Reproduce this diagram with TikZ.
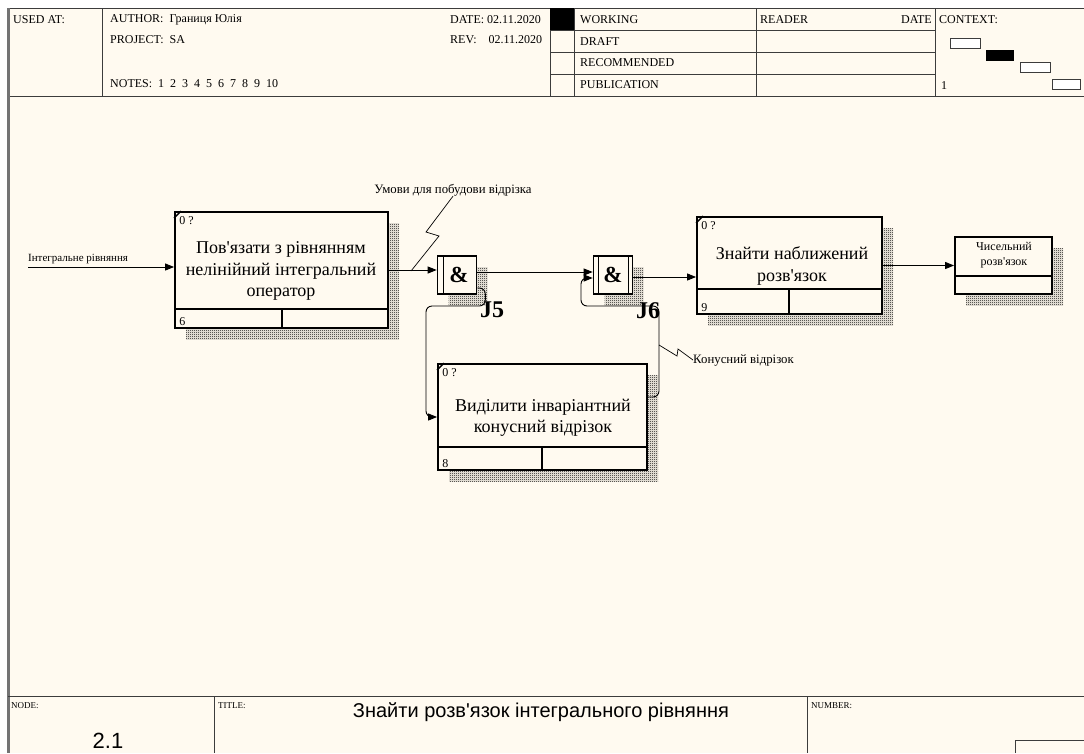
\documentclass[tikz,border=0pt]{standalone}
\usepackage{fontspec}
\setmainfont{Liberation Serif}[Ligatures=TeXOff]
\newfontfamily\arialf{Liberation Sans}
\usetikzlibrary{arrows.meta,patterns,positioning}
\definecolor{bgcream}{RGB}{255,250,240}
\definecolor{framegray}{RGB}{60,60,60}

% checker shade behind boxes
\pgfdeclarepatternformonly{checker}{\pgfpointorigin}{\pgfpoint{2pt}{2pt}}{\pgfpoint{2pt}{2pt}}{
  \pgfpathrectangle{\pgfpointorigin}{\pgfpoint{1pt}{1pt}}
  \pgfpathrectangle{\pgfpoint{1pt}{1pt}}{\pgfpoint{1pt}{1pt}}
  \pgfusepath{fill}}

\tikzset{
  actbox/.style={draw, line width=1.8pt, fill=bgcream, inner sep=0pt,
    preaction={pattern=checker, pattern color=black,
      transform canvas={xshift=11pt, yshift=-11pt}}},
  acttext/.style={align=center, inner sep=0pt, font=\fontsize{18}{21.5}\selectfont},
  jbox/.style={actbox, line width=1.6pt, minimum width=39pt, minimum height=38pt,
    font=\bfseries\fontsize{23}{23}\selectfont},
  jname/.style={inner sep=0pt, font=\bfseries\fontsize{24}{24}\selectfont},
  arr/.style={line width=0.9pt, -{Triangle[length=9pt,width=7pt]}},
  lbl/.style={inner sep=0pt, align=center, font=\fontsize{11}{13}\selectfont},
  biglbl/.style={lbl, font=\fontsize{12.8}{14}\selectfont},
  hdr/.style={inner sep=0pt, anchor=west, font=\fontsize{12}{13}\selectfont},
  small/.style={inner sep=0pt, font=\fontsize{12}{13}\selectfont},
  foot/.style={inner sep=0pt, anchor=west, font=\fontsize{9}{10}\selectfont},
  frame/.style={framegray, line width=1pt},
}

\begin{document}
\begin{tikzpicture}[x=1pt, y=-1pt]
% page and frame
\useasboundingbox (0,0) rectangle (1084,753);
\fill[white] (0,0) rectangle (1084,753);
\fill[bgcream] (8,8) rectangle (1084,753);
\draw[frame] (8,8) -- (1084,8);
\draw[frame] (8,96) -- (1084,96);
\draw[black!55, line width=2.5pt] (8.5,8) -- (8.5,753);

% header
\foreach \x in {102,550,574,756,935} \draw[frame] (\x,8) -- (\x,96);
\foreach \y in {30,52,74} \draw[frame] (550,\y) -- (935,\y);
\fill (550,8) rectangle (574,30);
\node[hdr] (usedat) at (13,20) {USED AT:};
\node[hdr] (author) at (110,20) {AUTHOR:~ Границя Юлія};
\node[hdr] (project) at (110,40) {PROJECT:~ SA};
\node[hdr] (notes) at (110,84) {NOTES:~ 1~ 2~ 3~ 4~ 5~ 6~ 7~ 8~ 9~ 10};
\node[hdr] (date) at (450,20) {DATE: 02.11.2020};
\node[hdr] (rev) at (450,40) {REV:~~~ 02.11.2020};
\node[hdr] (working) at (580,20) {WORKING};
\node[hdr] (draft) at (580,42) {DRAFT};
\node[hdr] (recom) at (580,63) {RECOMMENDED};
\node[hdr] (publ) at (580,85) {PUBLICATION};
\node[hdr] (reader) at (760,20) {READER};
\node[hdr, anchor=east] (rdate) at (932,20) {DATE};
\node[hdr] (context) at (939,20) {CONTEXT:};
\node[hdr] (ctxnum) at (941,86) {1};
\draw[frame, fill=white] (950,38) rectangle (980,48);
\fill (986,50) rectangle (1014,61);
\draw[frame, fill=white] (1020,62) rectangle (1050,72);
\draw[frame, fill=white] (1052,79) rectangle (1080,89);

% footer
\draw[frame] (8,696) -- (1084,696);
\draw[frame] (214,696) -- (214,753);
\draw[frame] (807,696) -- (807,753);
\draw[frame] (1015,753) -- (1015,740) -- (1084,740);
\node[foot] (nodelbl) at (11,706) {NODE:};
\node[foot] (titlelbl) at (218,706) {TITLE:};
\node[foot] (numlbl) at (811,706) {NUMBER:};
\node[inner sep=0pt, font=\arialf\fontsize{20}{22}\selectfont] (title) at (541,712) {Знайти розв'язок інтегрального рівняння};
\node[inner sep=0pt, font=\arialf\fontsize{22}{24}\selectfont] (nodenum) at (108,741) {2.1};

% activity boxes
\node[actbox, minimum width=213pt, minimum height=116pt] (act6) at (281.5,270) {};
\node[actbox, minimum width=209pt, minimum height=106pt] (act8) at (542.5,417) {};
\node[actbox, minimum width=185pt, minimum height=97pt] (act9) at (789.5,265.5) {};
\node[actbox, minimum width=97pt, minimum height=57pt] (out) at (1003.5,265.5) {};
\node[jbox] (j5) at (457,275) {\hspace*{4pt}\&};
\node[jbox] (j6) at (613,275) {\&};

% box bottoms and corner ticks
\draw[line width=1.8pt] ([yshift=20pt]act6.south west) -- ([yshift=20pt]act6.south east);
\draw[line width=1.8pt] ([xshift=108pt]act6.south west) -- ++(0,-20);
\draw[line width=1.8pt] ([yshift=24pt]act8.south west) -- ([yshift=24pt]act8.south east);
\draw[line width=1.8pt] ([xshift=105pt]act8.south west) -- ++(0,-24);
\draw[line width=1.8pt] ([yshift=26pt]act9.south west) -- ([yshift=26pt]act9.south east);
\draw[line width=1.8pt] ([xshift=93pt]act9.south west) -- ++(0,-26);
\draw[line width=1.8pt] ([yshift=19pt]out.south west) -- ([yshift=19pt]out.south east);
\foreach \b in {act6,act8,act9}
  \draw[line width=1.4pt] ([yshift=-7pt]\b.north west) -- ([xshift=7pt]\b.north west);
\draw[line width=1.4pt] ([xshift=7pt]j5.south west) -- ([xshift=7pt]j5.north west);
\draw[line width=1.4pt] ([xshift=6pt]j6.south west) -- ([xshift=6pt]j6.north west);
\draw[line width=1.4pt] ([xshift=-5pt]j6.south east) -- ([xshift=-5pt]j6.north east);

% box texts
\node[acttext] (t6) at (281,271) {Пов'язати з рівнянням\\нелінійний інтегральний\\оператор};
\node[acttext] (t8) at (543,418) {Виділити інваріантний\\конусний відрізок};
\node[acttext] (t9) at (792,266) {Знайти наближений\\розв'язок};
\node[lbl, font=\fontsize{12}{15.5}\selectfont] (t10) at (1004,255) {Чисельний\\розв'язок};
\node[small, anchor=north west] (q6) at ([shift={(5pt,-5pt)}]act6.north west) {0 ?};
\node[small, anchor=north west] (q8) at ([shift={(5pt,-5pt)}]act8.north west) {0 ?};
\node[small, anchor=north west] (q9) at ([shift={(5pt,-5pt)}]act9.north west) {0 ?};
\node[small, anchor=south west] (n6) at ([shift={(5pt,3pt)}]act6.south west) {6};
\node[small, anchor=south west] (n8) at ([shift={(5pt,3pt)}]act8.south west) {8};
\node[small, anchor=south west] (n9) at ([shift={(5pt,3pt)}]act9.south west) {9};
\node[jname] (j5n) at (492,310) {J5};
\node[jname] (j6n) at (648,311) {J6};

% arrows
\coordinate (in) at (28,267);
\node[lbl, anchor=south west] (lin) at ([yshift=3pt]in) {Інтегральне рівняння};
\draw[arr] (in) -- (in -| act6.west);
\draw[arr] (act6.east) -- (act6.east -| j5.west);
\draw[arr] ([yshift=3pt]j5.east) -- ([yshift=3pt]j5.east -| j6.west);
\draw[arr] ([yshift=-2pt]j6.east) -- ([yshift=-2pt]j6.east -| act9.west);
\draw[arr] (act9.east) -- (act9.east -| out.west);

% loops through J5 and J6
\coordinate (c5) at (426,306);
\draw[arr, rounded corners=6pt] ([yshift=-13pt]j5.east) -- ++(8,0) |- (c5) |- (act8.west);
\coordinate (c6a) at (659,306);
\coordinate (c6b) at (581,306);
\draw[arr, rounded corners=6pt] ([yshift=20pt]act8.east) -| (c6a) -- (c6b) |- ([yshift=-3pt]j6.west);

% call-outs
\node[biglbl] (umovy) at (453,190) {Умови для побудови відрізка};
\coordinate (u0) at (411,271);
\draw[line width=0.7pt] (u0) -- (439,236) -- (426,232) -- (umovy.south);
\node[biglbl, anchor=west] (konus) at (693,360) {Конусний відрізок};
\coordinate (k0) at (659,345);
\draw[line width=0.7pt] (k0) -- (677,356) -- (678,349) -- (konus.west);
\end{tikzpicture}
\end{document}
